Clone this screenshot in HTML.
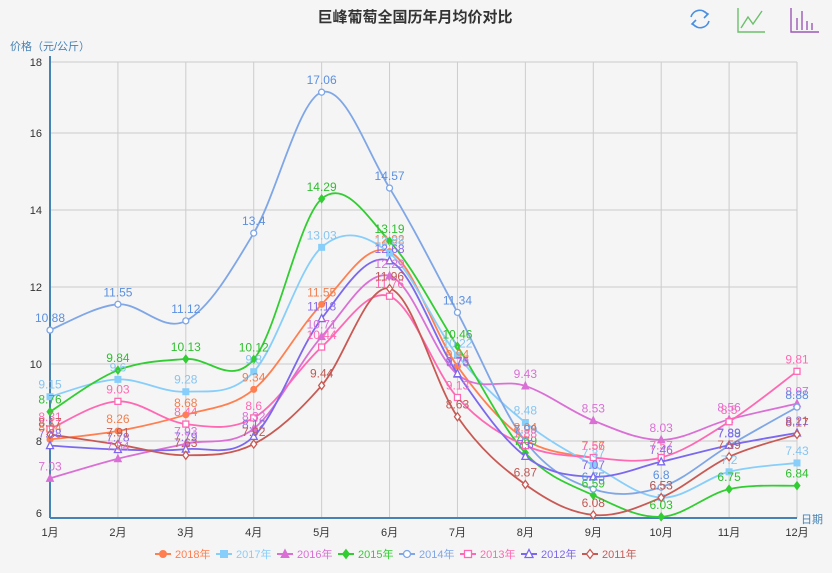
<!DOCTYPE html>
<html><head><meta charset="utf-8">
<style>
body{margin:0;background:#f5f5f5;}
svg{display:block;font-family:"Liberation Sans","Noto Sans CJK SC",sans-serif;}
</style></head>
<body>
<svg id="chart" width="832" height="573" viewBox="0 0 832 573">
<rect x="0" y="0" width="832" height="573" fill="#f5f5f5"/>
<text x="415" y="22" text-anchor="middle" font-size="15" font-weight="bold" fill="#333">巨峰葡萄全国历年月均价对比</text>
<text x="10" y="50" font-size="11" fill="#4682b4">价格（元/公斤）</text>
<text x="801" y="523" font-size="11" fill="#4682b4">日期</text>
<g transform="translate(700,19)" fill="none" stroke="#4a90e2" stroke-width="1.6">
<path d="M-9,-2 A9,9 0 0 1 7,-5"/><path d="M3,-8 L8,-5 L4,-1"/>
<path d="M9,2 A9,9 0 0 1 -7,5"/><path d="M-3,8 L-8,5 L-4,1"/>
</g>
<g fill="none" stroke="#6cc06c" stroke-width="1.4">
<path d="M738,8 L738,32 L765,32"/><path d="M741,28 L748,17 L753,24 L762,11"/>
</g>
<g stroke="#9b59b6" stroke-width="1.4" fill="none">
<path d="M791,8 L791,32 L819,32"/><path d="M797,30 L797,18 M802,30 L802,11 M807,30 L807,21 M812,30 L812,23"/>
</g>
<g id="grid"></g>
<g id="series"></g>
<g id="labels"></g>
<g id="legend"></g>
</svg>
<script>
const categories=['1月','2月','3月','4月','5月','6月','7月','8月','9月','10月','11月','12月'];
const seriesNames=['2018年','2017年','2016年','2015年','2014年','2013年','2012年','2011年'];
const s2018=[8.04,8.26,8.68,9.34,11.55,12.92,9.94,8.04,7.56,null,null,null];
const s2017=[9.15,9.6,9.28,9.8,13.03,12.88,10.22,8.48,7.37,6.53,7.2,7.43];
const s2016=[7.03,7.54,7.93,8.32,10.71,12.29,9.73,9.43,8.53,8.03,8.56,8.97];
const s2015=[8.76,9.84,10.13,10.12,14.29,13.19,10.46,7.69,6.59,6.03,6.75,6.84];
const s2014=[10.88,11.55,11.12,13.4,17.06,14.57,11.34,7.99,6.75,6.8,7.88,8.88];
const s2013=[8.31,9.03,8.44,8.6,10.44,11.76,9.13,7.88,7.57,7.57,8.5,9.81];
const s2012=[7.88,7.78,7.79,8.12,11.18,12.68,9.75,7.6,7.07,7.46,7.89,8.21];
const s2011=[8.17,7.91,7.63,7.92,9.44,11.96,8.63,6.87,6.08,6.53,7.59,8.17];
const yTicks=[6,8,10,12,14,16,18];
const allSeries=[s2018,s2017,s2016,s2015,s2014,s2013,s2012,s2011];
const colors=['#ff7f50','#87cefa','#da70d6','#32cd32','#7fa6e6','#ff69b4','#7b68ee','#c85a55'];
const labelColors=['#f08050','#87c5f0','#da70d6','#2fbf2f','#5b8fe0','#ff69b4','#8a6ae8','#c05a55'];
const symbols=['circle','rect','triangle','diamond','ecircle','erect','etriangle','ediamond'];
const NS='http://www.w3.org/2000/svg';
const X0=50,X1=797,TOP=62,BOT=518;
function xs(i){return X0+i*(X1-X0)/(categories.length-1);}
function ys(v){return 364-(v-10)*38.5;}
function mk(tag,attrs,parent){const e=document.createElementNS(NS,tag);for(const k in attrs)e.setAttribute(k,attrs[k]);parent.appendChild(e);return e;}
const grid=document.getElementById('grid');
categories.forEach((c,i)=>{
  if(i>0){const l=mk('line',{x1:xs(i),x2:xs(i),y1:TOP,y2:BOT,stroke:'#ccc','stroke-width':1},grid);
  
  }
  const t=mk('text',{x:xs(i),y:BOT+18,'text-anchor':'middle','font-size':11,fill:'#333'},grid);t.textContent=c;
  
  
});
yTicks.forEach(v=>{
  let y=ys(v); if(v===18)y=TOP; if(v===6)y=BOT;
  if(v!==6){const l=mk('line',{x1:X0,x2:X1,y1:y,y2:y,stroke:'#ccc','stroke-width':1},grid);
  
  }
  const t=mk('text',{x:42,y:(v===6?513:y)+4,'text-anchor':'end','font-size':11,fill:'#333'},grid);t.textContent=v;
  
  
});
const ya=mk('line',{x1:X0,x2:X0,y1:TOP-6,y2:BOT,stroke:'#4682b4','stroke-width':2},grid);


const xa=mk('line',{x1:X0,x2:X1,y1:BOT,y2:BOT,stroke:'#4682b4','stroke-width':2},grid);


function smoothPath(pts){
  let d='M'+pts[0][0]+','+pts[0][1];
  for(let i=0;i<pts.length-1;i++){
    const p0=pts[i-1]||pts[i],p1=pts[i],p2=pts[i+1],p3=pts[i+2]||p2;
    const k=0.17;
    const c1=[p1[0]+(p2[0]-p0[0])*k,p1[1]+(p2[1]-p0[1])*k];
    const c2=[p2[0]-(p3[0]-p1[0])*k,p2[1]-(p3[1]-p1[1])*k];
    d+=' C'+c1[0]+','+c1[1]+' '+c2[0]+','+c2[1]+' '+p2[0]+','+p2[1];
  }
  return d;
}
function symbol(type,x,y,c,parent,s){
  const hollow=type[0]==='e';const t=hollow?type.slice(1):type;
  const fill=hollow?'#fff':c;const a={fill:fill,stroke:c,'stroke-width':hollow?1.3:1};
  let e;
  if(t==='circle')e=mk('circle',Object.assign({cx:x,cy:y,r:s},a),parent);
  else if(t==='rect')e=mk('rect',Object.assign({x:x-s,y:y-s,width:2*s,height:2*s},a),parent);
  else if(t==='triangle')e=mk('polygon',Object.assign({points:`${x},${y-s-1} ${x+s+0.5},${y+s} ${x-s-0.5},${y+s}`},a),parent);
  else e=mk('polygon',Object.assign({points:`${x},${y-s-1} ${x+s},${y} ${x},${y+s+1} ${x-s},${y}`},a),parent);
  return e;
}
const sg=document.getElementById('series'),lg=document.getElementById('labels');
allSeries.forEach((data,si)=>{
  const g=mk('g',{},sg);
  
  
  const pts=[];data.forEach((v,i)=>{if(v!==null)pts.push([xs(i),ys(v),v]);});
  const p=mk('path',{d:smoothPath(pts),fill:'none',stroke:colors[si],'stroke-width':1.8},g);
  
  
  pts.forEach(pt=>{
    const m=symbol(symbols[si],pt[0],pt[1],colors[si],g,3);
    
    
    const t=mk('text',{x:pt[0],y:pt[1]-8,'text-anchor':'middle','font-size':12,fill:labelColors[si]},lg);
    t.textContent=pt[2];
    
    
  });
});
const leg=document.getElementById('legend');
seriesNames.forEach((n,i)=>{
  const x=155+i*61,y=554;
  const g=mk('g',{},leg);
  
  
  mk('line',{x1:x,x2:x+16,y1:y,y2:y,stroke:colors[i],'stroke-width':2},g);
  symbol(symbols[i],x+8,y,colors[i],g,3.5);
  const t=mk('text',{x:x+20,y:y+4,'font-size':11,fill:colors[i]},g);t.textContent=n;
});
</script>
</body></html>
